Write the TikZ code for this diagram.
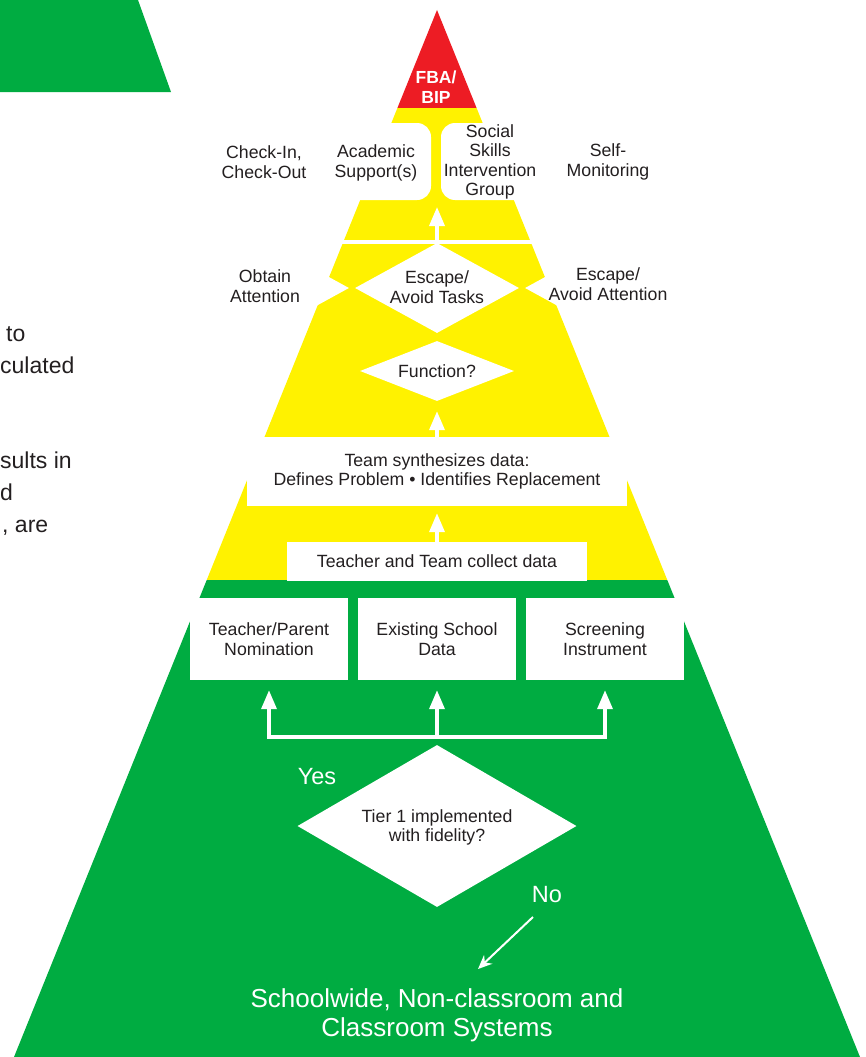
\documentclass[tikz,border=0pt]{standalone}
\usepackage{fontspec}
\setmainfont{Liberation Sans}
\usetikzlibrary{shapes.geometric, arrows.meta}
\definecolor{tiergreen}{RGB}{0,172,65}
\definecolor{tieryellow}{RGB}{255,242,0}
\definecolor{tierred}{RGB}{237,28,36}
\definecolor{inkblack}{RGB}{35,31,32}

\begin{document}
\begin{tikzpicture}[x=1pt, y=-1pt, line join=miter,
  every node/.style={inner sep=0pt, align=center, text=inkblack, font=\fontsize{17.7}{19.5}\selectfont},
  box/.style={fill=white},
  dia/.style={diamond, fill=white},
  whitetext/.style={text=white},
  warrow/.style={draw=white, line width=3.5pt, -{Triangle[width=15pt, length=19pt]}}]
  \useasboundingbox (0,0) rectangle (866,1057);

  % 1. 左上角的绿色色块
  \fill[tiergreen] (0,0) -- (138,0) -- (171,92) -- (0,92) -- cycle;

  % 2. 金字塔三层底色 (先裁成三角形再分层填充)
  \begin{scope}
    \clip (437,10) -- (860,1057) -- (14,1057) -- cycle;
    \fill[tierred] (0,0) rectangle (866,108);
    \fill[tieryellow] (0,108) rectangle (866,580);
    \fill[tiergreen] (0,580) rectangle (866,1057);
  \end{scope}

  % 3. 白色挖空: 干预项两侧的圆角块和分隔线
  \fill[white, rounded corners=14pt] (230,123) rectangle (431,200);
  \fill[white, rounded corners=14pt] (441,123) rectangle (650,200);
  \fill[white] (300,240) rectangle (580,243.5);

  % 4. 功能判断的菱形 (三个并排 + 下方 Function?)
  \node[dia, minimum width=164pt, minimum height=90pt] (obtain) at (267,288) {};
  \node[dia, minimum width=164pt, minimum height=90pt] (esc) at (437,288) {};
  \node[dia, minimum width=164pt, minimum height=90pt] (escatt) at (607,288) {};
  \node[dia, minimum width=154pt, minimum height=60pt] (func) at (437,371) {};

  % 5. 数据收集与筛选方框
  \node[box, minimum width=380pt, minimum height=69pt] (synth) at (437,471.5)
    {Team synthesizes data:\\Defines Problem \textbullet\ Identifies Replacement};
  \node[box, minimum width=300pt, minimum height=39pt] (collect) at (437,561.5) {Teacher and Team collect data};
  \node[box, minimum width=158pt, minimum height=82pt] (nomin) at (269,639) {Teacher/Parent\\Nomination};
  \node[box, minimum width=158pt, minimum height=82pt] (existing) at (437,639) {Existing School\\Data};
  \node[box, minimum width=158pt, minimum height=82pt] (screen) at (605,639) {Screening\\Instrument};
  \node[dia, minimum width=279pt, minimum height=162pt] (tier) at (437,826) {};

  % 6. 各层文字
  \node[whitetext, font=\bfseries\fontsize{17.5}{20}\selectfont] (fba) at (436,87) {FBA/\\BIP};
  \node (checkin) at (264,162) {Check-In,\\Check-Out};
  \node (acad) at (376,163) {Academic\\Support(s)};
  \node (social) at (490,162) {Social\\Skills\\Intervention\\Group};
  \node (selfmon) at (608,162) {Self-\\Monitoring};
  \node (obtainlbl) at (265,286) {Obtain\\Attention};
  \node (esclbl) at (437,287) {Escape/\\Avoid Tasks};
  \node (escattlbl) at (608,284) {Escape/\\Avoid Attention};
  \node (funclbl) at (437,371) {Function?};
  \node (tierlbl) at (437,827.5) {Tier 1 implemented\\with fidelity?};
  \node[whitetext, font=\fontsize{23.5}{26}\selectfont] (yes) at (317,777) {Yes};
  \node[whitetext, font=\fontsize{23.5}{26}\selectfont] (no) at (547,895) {No};
  \node[whitetext, font=\fontsize{26}{29}\selectfont] (systems) at (437,1015)
    {Schoolwide, Non-classroom and\\Classroom Systems};

  % 左侧被截断的正文
  \node[anchor=base west, font=\fontsize{23}{31}\selectfont] (cutto) at (6,341) {to};
  \node[anchor=base west, font=\fontsize{23}{31}\selectfont] (cutcul) at (0,373) {culated};
  \node[anchor=base west, font=\fontsize{23}{31}\selectfont] (cutres) at (0,468) {sults in};
  \node[anchor=base west, font=\fontsize{23}{31}\selectfont] (cutd) at (0,500) {d};
  \node[anchor=base west, font=\fontsize{23}{31}\selectfont] (cutare) at (2,532) {, are};

  % 7. 白色箭头
  \coordinate (stem) at (437,207);
  \draw[warrow] (esc.north) -- (stem);
  \draw[warrow, shorten >=10pt] (synth.north) -- (func.south);
  \draw[warrow, shorten >=7pt] (collect.north) -- (synth.south);
  \coordinate (fork) at ([yshift=8pt]tier.north);
  \draw[warrow, shorten >=10pt] (fork) -| (nomin.south);
  \draw[warrow, shorten >=10pt] (fork) -- (existing.south);
  \draw[warrow, shorten >=10pt] (fork) -| (screen.south);

  \coordinate (nofrom) at (533,917);
  \coordinate (noto) at (478,969);
  \draw[white, line width=2pt, -{Stealth[length=14pt, width=12pt]}] (nofrom) -- (noto);
\end{tikzpicture}
\end{document}
